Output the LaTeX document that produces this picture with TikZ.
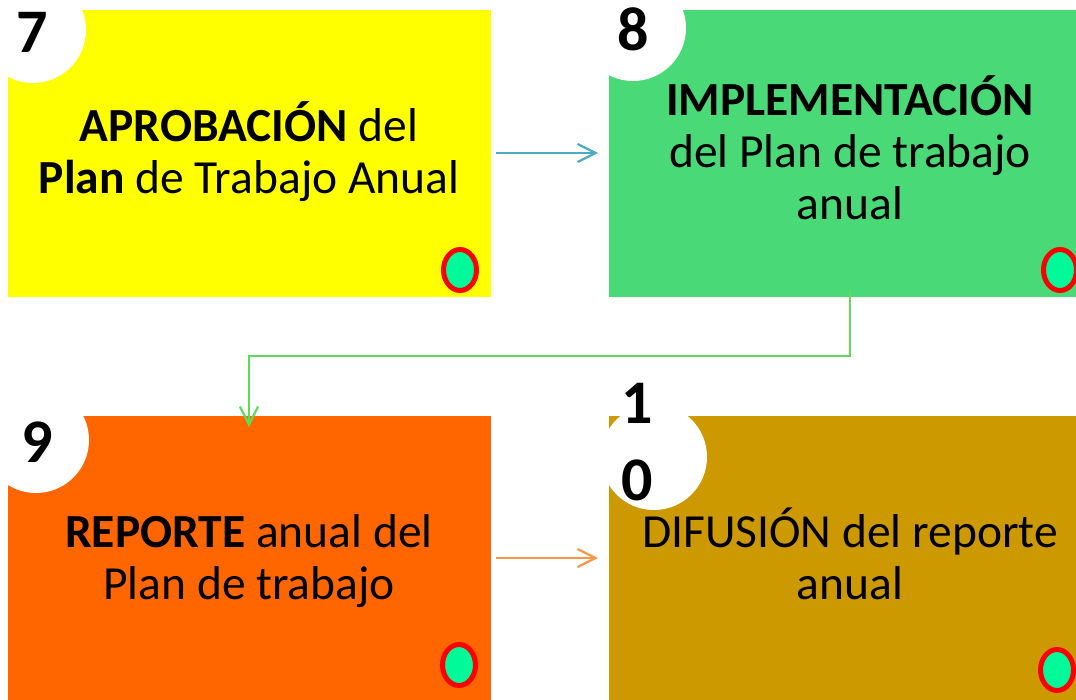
\documentclass[tikz,border=0pt]{standalone}
\usepackage{fontspec}
\setmainfont{Carlito}
\usetikzlibrary{arrows.meta,shapes.geometric}
\definecolor{cyel}{HTML}{FFFF00}
\definecolor{cgrn}{HTML}{4AD977}
\definecolor{corg}{HTML}{FF6600}
\definecolor{cgold}{HTML}{CC9900}
\definecolor{cmint}{HTML}{00FA9A}
\definecolor{cblue}{HTML}{4BACC6}
\definecolor{cline}{HTML}{62D95B}
\definecolor{corl}{HTML}{F79646}
\tikzset{
  badge/.style={circle, fill=white, minimum size=106pt, inner sep=0pt},
  num/.style={font=\fontsize{62}{76}\selectfont\bfseries, anchor=base, inner sep=0pt},
  txt/.style={font=\fontsize{47.5}{52}\selectfont, anchor=base, inner sep=0pt},
  dot/.style={ellipse, draw=red, line width=5pt, fill=cmint, minimum width=33pt, minimum height=41pt, inner sep=0pt},
  link/.style={line width=2.2pt, -{Straight Barb[length=18pt,width=18pt,line width=2.2pt]}},
}
\begin{document}
\begin{tikzpicture}[x=1pt,y=-1pt]
\clip (0,0) rectangle (1076,699);
\fill[white] (0,0) rectangle (1076,699);
% panels
\fill[cyel] (8,10) rectangle (491,297);
\fill[cgrn] (609,10) rectangle (1092,297);
\fill[corg] (8,416) rectangle (491,720);
\fill[cgold] (609,416) rectangle (1092,720);
% panel anchor coordinates
\coordinate (b7r) at (491,153);
\coordinate (b8l) at (609,153);
\coordinate (b8b) at (850,297);
\coordinate (b9t) at (249,416);
\coordinate (b9r) at (491,558);
\coordinate (b10l) at (609,558);
% badges
\node[badge] (c7) at (33,30) {};
\node[badge] (c8) at (633,28) {};
\node[badge] (c9) at (36,440) {};
\node[badge] (c10) at (654,457) {};
\node[num] (n7) at (32.5,52) {7};
\node[num] (n8) at (633,50) {8};
\node[num] (n9) at (37,462) {9};
\node[num] (n10a) at (637,423) {1};
\node[num] (n10b) at (637,500) {0};
% texts
\node[txt] (t7a) at (249,141) {\textbf{APROBACIÓN} del};
\node[txt] (t7b) at (249,193) {\textbf{Plan} de Trabajo Anual};
\node[txt] (t8a) at (850,115) {\textbf{IMPLEMENTACIÓN}};
\node[txt] (t8b) at (850,167) {del Plan de trabajo};
\node[txt] (t8c) at (850,219) {anual};
\node[txt] (t9a) at (249,547) {\textbf{REPORTE} anual del};
\node[txt] (t9b) at (249,599) {Plan de trabajo};
\node[txt] (t10a) at (850,547) {DIFUSIÓN del reporte};
\node[txt] (t10b) at (850,599) {anual};
% dots
\node[dot] (d7) at (460,270) {};
\node[dot] (d8) at (1060,270) {};
\node[dot] (d9) at (459,665) {};
\node[dot] (d10) at (1057,670) {};
% connectors
\draw[link, cblue] ([xshift=5pt]b7r) -- ([xshift=-11pt]b8l);
\draw[link, cline] ([yshift=6pt]b8b) |- (549,356) -| ([yshift=-11pt]b9t);
\draw[link, corl] ([xshift=5pt]b9r) -- ([xshift=-11pt]b10l);
\end{tikzpicture}
\end{document}
